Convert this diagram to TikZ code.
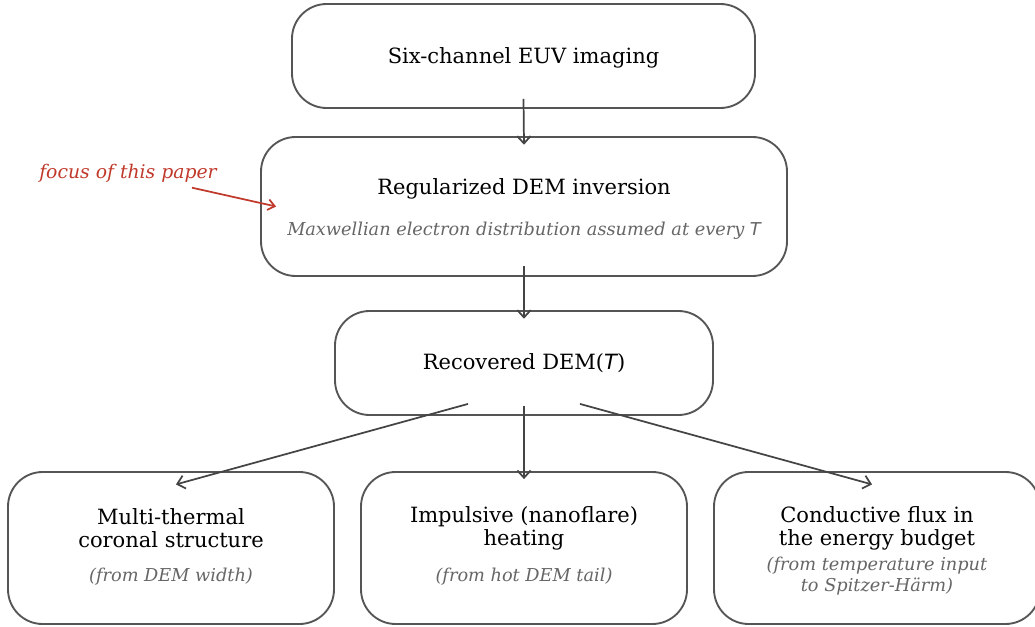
\documentclass[tikz,border=0pt]{standalone}
\usepackage{fontspec}
\setmainfont{DejaVu Serif}
\newfontfamily\msans{DejaVu Sans}
\usetikzlibrary{arrows.meta}
\definecolor{boxline}{HTML}{555555}
\definecolor{arrline}{HTML}{444444}
\definecolor{subgray}{HTML}{666666}
\definecolor{focusred}{HTML}{C0392B}
\tikzset{
  x=0.75pt, y=-0.75pt,
  box/.style={draw=boxline, line width=1.4pt, rounded corners=26pt, fill=white, inner sep=0pt},
  ttl/.style={font=\fontsize{15.75}{17.4}\selectfont, align=center, inner sep=0pt, text=black},
  sub/.style={font=\fontsize{13.3}{15.6}\selectfont\itshape, align=center, inner sep=0pt, text=subgray},
  arr/.style={draw=arrline, line width=1.3pt, -{Straight Barb[length=5.5pt,width=10pt]}},
  redarr/.style={draw=focusred, line width=1.3pt, -{Straight Barb[length=5pt,width=8pt]}},
}
\newcommand{\Tsym}{{\msans\itshape T}}
\begin{document}
\begin{tikzpicture}
\useasboundingbox (0,0) rectangle (1035,627);
% boxes
\node[box, minimum width=463*0.75pt, minimum height=104*0.75pt] (b1) at (523.5,56) {};
\node[box, minimum width=526*0.75pt, minimum height=139*0.75pt] (b2) at (524,206.5) {};
\node[box, minimum width=378*0.75pt, minimum height=104*0.75pt] (b3) at (524,363) {};
\node[box, minimum width=326*0.75pt, minimum height=152*0.75pt] (b4) at (171,548) {};
\node[box, minimum width=326*0.75pt, minimum height=152*0.75pt] (b5) at (524,548) {};
\node[box, minimum width=326*0.75pt, minimum height=152*0.75pt] (b6) at (877,548) {};
% texts
\node[ttl] (t1) at (523.5,57.5) {Six-channel EUV imaging};
\node[ttl] (t2) at (524,189) {Regularized DEM inversion};
\node[sub] (s2) at (524,231) {Maxwellian electron distribution assumed at every \Tsym};
\node[ttl] (t3) at (524,363) {Recovered DEM(\Tsym)};
\node[ttl] (t4) at (171,528) {Multi-thermal\\coronal structure};
\node[sub] (s4) at (171,576.5) {(from DEM width)};
\node[ttl] (t5) at (524,528) {Impulsive (nanoflare)\\heating};
\node[sub] (s5) at (524,576.5) {(from hot DEM tail)};
\node[ttl] (t6) at (877,528) {Conductive flux in\\the energy budget};
\node[sub] (s6) at (877,576.5) {(from temperature input\\to Spitzer-Härm)};
\node[sub, text=focusred, font=\fontsize{14.1}{16}\selectfont\itshape] (fc) at (128,173) {focus of this paper};
% connectors
\draw[arr] ([yshift=7.5pt]b1.south) -- ([yshift=-6.5pt]b2.north);
\draw[arr] ([yshift=8pt]b2.south) -- ([yshift=-6.5pt]b3.north);
\draw[arr] ([xshift=-42pt,yshift=9pt]b3.south) -- ([xshift=3.75pt,yshift=-10pt]b4.north);
\draw[arr] ([yshift=7.5pt]b3.south) -- ([yshift=-6pt]b5.north);
\draw[arr] ([xshift=42pt,yshift=9pt]b3.south) -- ([xshift=-3.75pt,yshift=-10pt]b6.north);
\draw[redarr] ([xshift=48pt,yshift=-4pt]fc.south) -- ([xshift=12pt,yshift=0pt]b2.west);
\end{tikzpicture}
\end{document}
